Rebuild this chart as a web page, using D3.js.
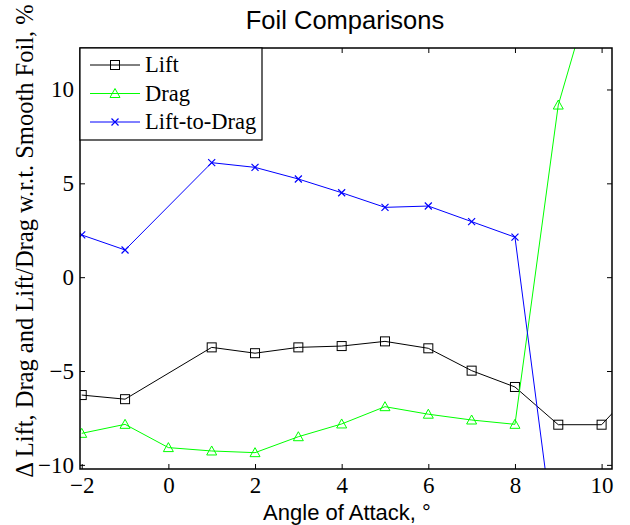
<!DOCTYPE html>
<html>
<head>
<meta charset="utf-8">
<script src="https://cdn.jsdelivr.net/npm/d3@7"></script>
<style>
  body { margin: 0; background: #fff; }
</style>
</head>
<body>
<div id="chart"></div>
<script>
// angle of attack for each series
const aoaLift = [-2, -1, 1, 2, 3, 4, 5, 6, 7, 8, 9, 10, 11];
const liftVals = [-6.28, -6.5, -3.74, -4.05, -3.74, -3.67, -3.42, -3.79, -4.98, -5.85, -7.86, -7.86, -5.4];

const aoaDrag = [-2, -1, 0, 1, 2, 3, 4, 5, 6, 7, 8, 9, 10];
const dragVals = [-8.32, -7.84, -9.08, -9.26, -9.35, -8.5, -7.82, -6.9, -7.3, -7.61, -7.84, 9.17, 17.1];

const aoaLD = [-2, -1, 1, 2, 3, 4, 5, 6, 7, 8, 9];
const ldVals = [2.25, 1.45, 6.1, 5.85, 5.23, 4.5, 3.72, 3.79, 2.96, 2.13, -15.6];

const xTicks = [-2, 0, 2, 4, 6, 8, 10];
const yTicks = [-10, -5, 0, 5, 10];
const legendNames = ["Lift", "Drag", "Lift-to-Drag"];

const W = 630, H = 525;
const margin = {top: 48, right: 18, bottom: 56, left: 80};
const width = W - margin.left - margin.right;
const height = H - margin.top - margin.bottom;

const svg = d3.select("#chart").append("svg")
    .attr("width", W)
    .attr("height", H);

const g = svg.append("g")
    .attr("transform", `translate(${margin.left},${margin.top})`);

const x = d3.scaleLinear().domain([-2.04, 10.24]).range([0, width]);
const y = d3.scaleLinear().domain([-10.22, 12.21]).range([height, 0]);

const serif = "'Liberation Serif', 'Times New Roman', serif";
const sans = "'Liberation Sans', Arial, sans-serif";

// clip
g.append("clipPath").attr("id", "clip")
    .append("rect").attr("width", width).attr("height", height);

// axes, ticks inward
const tickLen = 5;
const xAxis = g.append("g")
    .attr("transform", `translate(0,${height})`)
    .call(d3.axisBottom(x).tickValues(xTicks).tickSizeInner(-tickLen).tickSizeOuter(0).tickPadding(8));
xAxis.selectAll("text").attr("font-family", serif).attr("font-size", 23).attr("fill", "#000");

g.append("g")
    .call(d3.axisTop(x).tickValues(xTicks).tickSizeInner(-tickLen).tickSizeOuter(0).tickFormat(""));

const yAxis = g.append("g")
    .call(d3.axisLeft(y).tickValues(yTicks).tickSizeInner(-tickLen).tickSizeOuter(0).tickPadding(6));
yAxis.selectAll("text").attr("font-family", serif).attr("font-size", 23).attr("fill", "#000");

g.append("g")
    .attr("transform", `translate(${width},0)`)
    .call(d3.axisRight(y).tickValues(yTicks).tickSizeInner(-tickLen).tickSizeOuter(0).tickFormat(""));

g.selectAll(".domain").remove();
g.selectAll(".tick line").attr("stroke", "#000").attr("stroke-width", 1);

// series
const series = [
  {name: "Lift", xs: aoaLift, ys: liftVals, color: "#000000", marker: "square"},
  {name: "Drag", xs: aoaDrag, ys: dragVals, color: "#00ff00", marker: "triangle"},
  {name: "Lift-to-Drag", xs: aoaLD, ys: ldVals, color: "#0000ff", marker: "x"}
];

const line = d3.line().x(d => x(d[0])).y(d => y(d[1]));

function drawMarker(sel, type, color) {
  if (type === "square") {
    sel.append("rect").attr("x", -4.5).attr("y", -4.5).attr("width", 9).attr("height", 9)
      .attr("fill", "none").attr("stroke", color).attr("stroke-width", 1);
  } else if (type === "triangle") {
    sel.append("path").attr("d", "M0,-5L5,4L-5,4Z")
      .attr("fill", "none").attr("stroke", color).attr("stroke-width", 1);
  } else {
    sel.append("path").attr("d", "M-3.5,-3.5L3.5,3.5M-3.5,3.5L3.5,-3.5")
      .attr("fill", "none").attr("stroke", color).attr("stroke-width", 1.2);
  }
}

const plot = g.append("g").attr("clip-path", "url(#clip)");

series.forEach(s => {
  const pts = s.xs.map((v, i) => [v, s.ys[i]]);
  plot.append("path").datum(pts)
    .attr("d", line)
    .attr("fill", "none")
    .attr("stroke", s.color)
    .attr("stroke-width", 1);
  plot.selectAll(null).data(pts).enter().append("g")
    .attr("transform", d => `translate(${x(d[0])},${y(d[1])})`)
    .each(function() { drawMarker(d3.select(this), s.marker, s.color); });
});

// box
g.append("rect")
  .attr("width", width).attr("height", height)
  .attr("fill", "none").attr("stroke", "#000").attr("stroke-width", 1.5);

// legend
const legend = g.append("g");
legend.append("rect")
  .attr("x", 0).attr("y", 0).attr("width", 182).attr("height", 92)
  .attr("fill", "#fff").attr("stroke", "#000").attr("stroke-width", 1.2);

series.forEach((s, i) => {
  const ly = 17 + i * 28.5;
  const row = legend.append("g").attr("transform", `translate(0,${ly})`);
  row.append("line").attr("x1", 10).attr("x2", 60).attr("y1", 0).attr("y2", 0)
    .attr("stroke", s.color).attr("stroke-width", 1);
  drawMarker(row.append("g").attr("transform", "translate(35,0)"), s.marker, s.color);
  row.append("text").attr("x", 65).attr("y", 7)
    .attr("font-family", serif).attr("font-size", 22.5).attr("fill", "#000")
    .text(legendNames[i]);
});

// title and labels
svg.append("text")
  .attr("x", 345).attr("y", 29)
  .attr("text-anchor", "middle")
  .attr("font-family", sans).attr("font-size", 25.5)
  .text("Foil Comparisons");

svg.append("text")
  .attr("x", 347).attr("y", 520)
  .attr("text-anchor", "middle")
  .attr("font-family", sans).attr("font-size", 22)
  .text("Angle of Attack, °");

svg.append("text")
  .attr("transform", `translate(33,241) rotate(-90)`)
  .attr("text-anchor", "middle")
  .attr("font-family", serif).attr("font-size", 24.5)
  .text("Δ Lift, Drag and Lift/Drag w.r.t. Smooth Foil, %");
</script>
</body>
</html>
